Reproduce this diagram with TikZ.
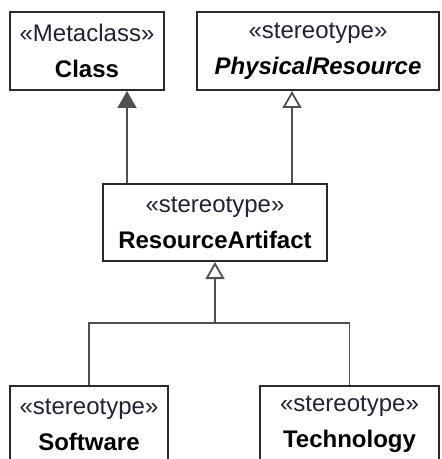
\documentclass[tikz,border=0pt]{standalone}
\usepackage{fontspec}
\setmainfont{Liberation Sans}
\usetikzlibrary{arrows.meta,calc}
\definecolor{linegray}{HTML}{505050}
\definecolor{boxline}{HTML}{2A2A2A}
\definecolor{stereo}{HTML}{1E2233}
\begin{document}
\begin{tikzpicture}[x=0.5pt,y=-0.5pt,
  umlbox/.style={draw=boxline, line width=1pt, rectangle, inner sep=0pt,
    align=center, font=\fontsize{12}{18}\selectfont},
  conn/.style={draw=linegray, line width=0.9pt},
  genfilled/.style={conn, -{Triangle[length=8.5pt,width=9.5pt,fill=linegray]}},
  genopen/.style={conn, -{Triangle[open,length=8.5pt,width=9.5pt,fill=white]}}]
\useasboundingbox (0,0) rectangle (441,459);
\clip (0,0) rectangle (441,459);
\node[umlbox, minimum width=77pt, minimum height=39pt] (cl) at (87,51)
  {\textcolor{stereo}{«Metaclass»}\\\textbf{Class}};
\node[umlbox, minimum width=121pt, minimum height=39pt] (pr) at (318,51)
  {\textcolor{stereo}{«stereotype»}\\\textbf{\textit{PhysicalResource}}};
\node[umlbox, minimum width=112pt, minimum height=38.5pt] (ra) at (215,222.5)
  {\textcolor{stereo}{«stereotype»}\\\textbf{ResourceArtifact}};
\node[umlbox, minimum width=79pt, minimum height=39pt] (sw) at (89,424.5)
  {\textcolor{stereo}{«stereotype»}\\\textbf{Software}};
\node[umlbox, minimum width=89.5pt, minimum height=39pt] (te) at (349.5,424.5)
  {\textcolor{stereo}{«stereotype»}\\\textbf{Technology}};
\coordinate (j) at (215,323);
\draw[genfilled] ([xshift=12.5pt]ra.north west) -- ([xshift=12.5pt]ra.north west |- cl.south);
\draw[genopen] ([xshift=-18pt]ra.north east) -- ([xshift=-18pt]ra.north east |- pr.south);
\draw[conn] (sw.north) |- (j);
\draw[conn] (te.north) |- (j);
\draw[genopen] (j) -- (ra.south);
\end{tikzpicture}
\end{document}
